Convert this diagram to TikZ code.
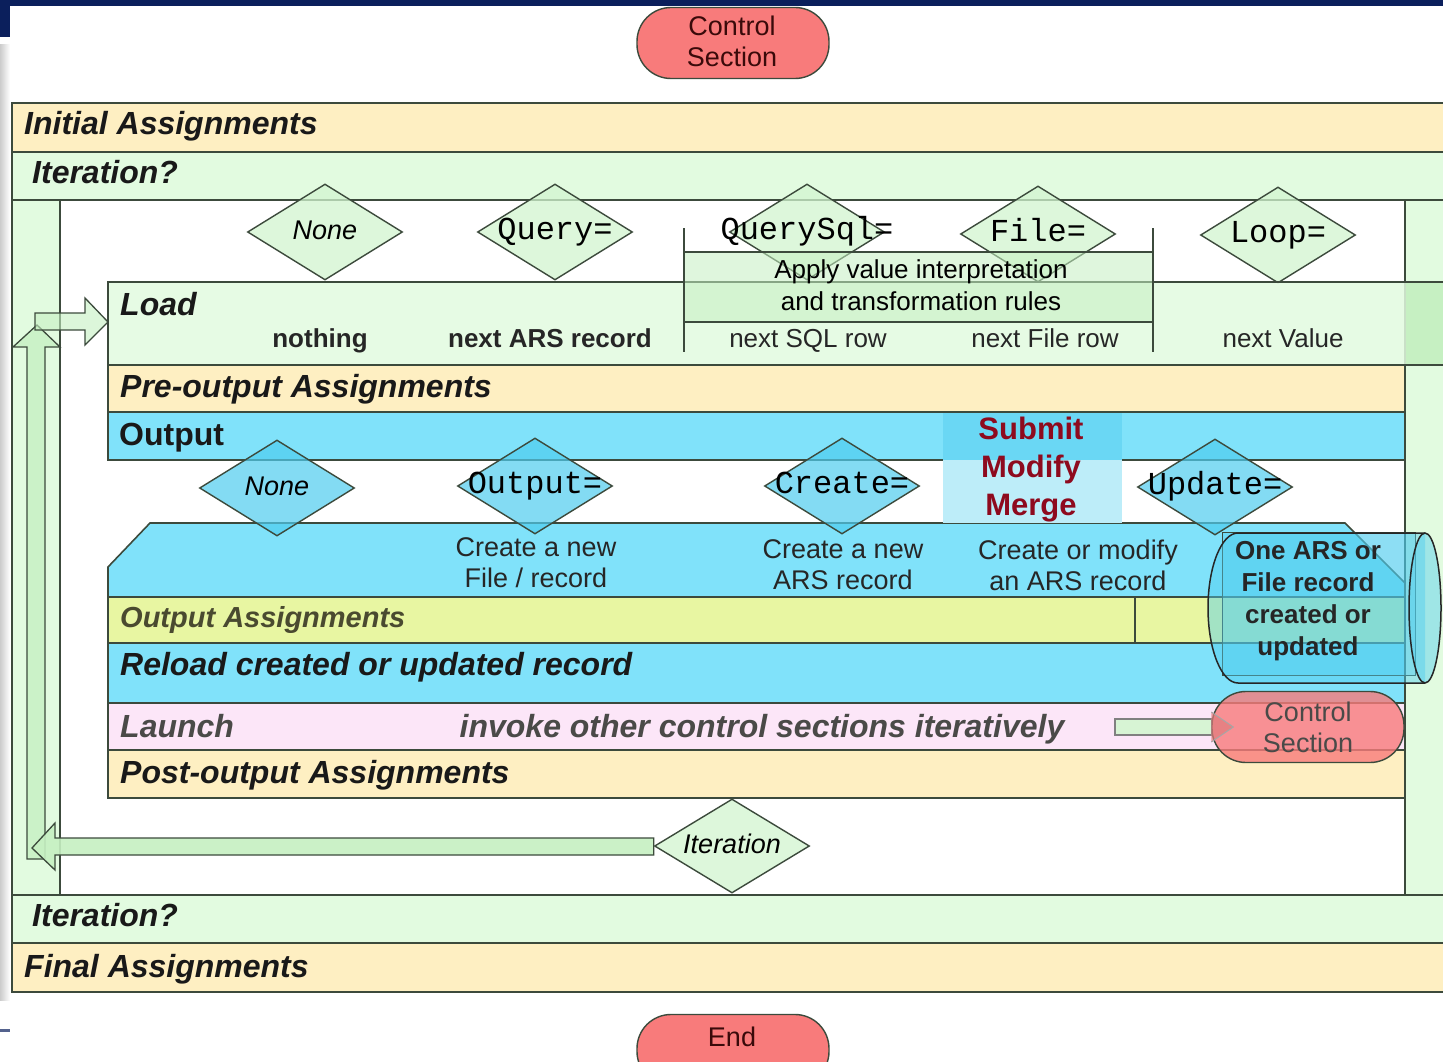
\documentclass[tikz,border=0pt]{standalone}
\usepackage{fontspec}
\setmainfont{Liberation Sans}
\newfontfamily\mymono{Liberation Mono}
\usetikzlibrary{shapes.geometric,calc}
\definecolor{peach}{HTML}{FEEFC2}
\definecolor{lgreen}{HTML}{E2FBE0}
\definecolor{mgreen}{HTML}{C6F0C2}
\definecolor{dgreen}{HTML}{D2F5D0}
\definecolor{cyanb}{HTML}{80E2FA}
\definecolor{cyand}{HTML}{4FCDEF}
\definecolor{cyanm}{HTML}{6AD7F4}
\definecolor{cyanl}{HTML}{BDEDF9}
\definecolor{ygreen}{HTML}{E8F6A2}
\definecolor{pinkb}{HTML}{FCE6F8}
\definecolor{salmon}{HTML}{F87B7B}
\definecolor{edge}{HTML}{3C4A3C}
\definecolor{navy}{HTML}{0B1F5C}
\definecolor{darkred}{HTML}{8E0A1E}
\definecolor{ctext}{HTML}{3A0A0A}
\definecolor{greytext}{HTML}{4A4A48}
\definecolor{olivetext}{HTML}{4A4A30}
\newcommand\fsz[2]{\fontsize{#1}{#2}\selectfont}
\tikzset{
  band/.style={draw=edge, line width=1.6pt},
  dia/.style={diamond, draw=edge, line width=1.4pt, minimum width=155pt, minimum height=96pt, inner sep=0pt},
  gdia/.style={dia, fill=dgreen, fill opacity=0.75},
  cdia/.style={dia, fill=cyand, fill opacity=0.7},
  btitle/.style={anchor=west, font=\fsz{32}{36}\bfseries\itshape, text=black!90, inner sep=0pt, text height=25pt, text depth=5pt},
  sub/.style={font=\fsz{26}{30}\bfseries, text=black!85, inner sep=0pt, text height=19pt, text depth=5pt},
  monot/.style={font=\mymono\fsz{32}{34}, inner sep=0pt, text height=21pt, text depth=6pt},
  dtext/.style={font=\fsz{27}{30}\itshape, inner sep=0pt, text height=20pt, text depth=6pt},
  term/.style={rectangle, rounded corners=34pt, draw=edge, line width=1.4pt, fill=salmon, minimum width=192pt, minimum height=71pt, inner sep=0pt},
  multi/.style={align=center, font=\fsz{27}{31}, inner sep=0pt},
  blockarrow/.style={draw=edge, line width=1.3pt, fill=mgreen, fill opacity=0.8},
}
\begin{document}
\begin{tikzpicture}[x=1pt,y=-1pt]
\clip (0,0) rectangle (1443,1062);
\fill[white] (0,0) rectangle (1443,1062);
% slide decorations
\fill[navy] (0,0) rectangle (1443,6);
\fill[navy] (0,0) rectangle (10,37);
\shade[left color=gray!40, right color=white] (0,45) rectangle (10,1000);
\fill[navy!70] (0,1029) rectangle (10,1032);

% outer frame
\draw[band, fill=peach] (12,103) rectangle (1460,152);
\draw[band, fill=lgreen] (12,152) rectangle (1460,200);
\draw[band, fill=white] (12,200) rectangle (1460,895);
\draw[band, fill=lgreen] (12,200) rectangle (60,895);
\draw[band, fill=lgreen] (1405,200) rectangle (1460,908);
\draw[band, fill=lgreen] (12,895) rectangle (1460,943);
\draw[band, fill=peach] (12,943) rectangle (1460,992);

% top diamonds
\node[gdia] (dnone) at (325,232) {};
\node[gdia] (dquery) at (555,232) {};
\node[gdia] (dsql) at (807,232) {};
\node[gdia] (dfile) at (1038,234) {};
\node[gdia] (dloop) at (1278,235) {};

% inner frame
\draw[band, fill=lgreen, fill opacity=0.85] (108,282) rectangle (1460,365);
\fill[mgreen] (1406,283) rectangle (1443,364);
\draw[band, fill=peach] (108,365) rectangle (1405,412);
\draw[band, fill=cyanb] (108,412) rectangle (1405,460);
\draw[band, fill=cyanb] (108,597) -- (108,567) -- (150,523) -- (1345,523) -- (1405,583) -- (1405,597) -- cycle;
\draw[band, fill=ygreen] (108,597) rectangle (1405,643);
\draw[band] (1135,597) -- (1135,643);
\draw[band, fill=cyanb] (108,643) rectangle (1405,703);
\draw[band, fill=pinkb] (108,703) rectangle (1405,750);
\draw[band, fill=peach] (108,750) rectangle (1405,798);

% bracket lines and apply box
\draw[band] (684,228) -- (684,352);
\draw[band] (1153,228) -- (1153,352);
\draw[band, fill=mgreen, fill opacity=0.55] (684,252) rectangle (1153,322);

% submit highlight
\fill[cyanm] (943,413) rectangle (1122,460);
\fill[cyanl] (943,460) rectangle (1122,523);

% output diamonds
\node[cdia] (onone) at (277,488) {};
\node[cdia] (oout) at (535,486) {};
\node[cdia] (ocreate) at (842,486) {};
\node[cdia] (oupdate) at (1215,487) {};

% cylinder
\draw[draw=edge, line width=1pt, fill=cyand, fill opacity=0.35] (1222,532) rectangle (1415,675);
\draw[draw=black!85, line width=1.5pt, fill=cyand, fill opacity=0.45]
  (1425,533) -- (1238,533) arc[start angle=-90, end angle=-270, x radius=30, y radius=75] -- (1425,683);
\draw[draw=black!85, line width=1.5pt, fill=cyand, fill opacity=0.45] (1425,608) ellipse[x radius=16, y radius=75];

% launch arrow and control section
\coordinate (lstart) at (1115,727);
\node[term, fill opacity=0.8] (ctl2) at (1308,727) {};
\draw[draw=gray, line width=1.3pt, fill=mgreen!70] ($(lstart)+(0,-8)$) rectangle ($(ctl2.west)+(0,8)$);
\draw[draw=gray!70, fill=salmon!80!gray, fill opacity=0.7, line width=1pt] ($(ctl2.west)+(0,-15)$) -- ($(ctl2.west)+(22,0)$) -- ($(ctl2.west)+(0,15)$);

% iteration diamond
\node[gdia, minimum height=94pt] (itd) at (732,846) {};

% left loop arrows
\coordinate (loadw) at (108,322);
\draw[blockarrow] (27,859) -- (27,347) -- (13,347) -- (37,325) -- (60,347) -- (45,347) -- (45,859) -- cycle;
\draw[blockarrow, fill opacity=0.6] (35,313) -- (85,313) -- (85,298) -- (loadw) -- (85,345) -- (85,330) -- (35,330) -- cycle;
\draw[blockarrow, fill opacity=0.9] ($(itd.west)+(0,-8)$) -- (55,838) -- (55,823) -- (32,848) -- (55,870) -- (55,855) -- ($(itd.west)+(0,9)$) -- cycle;

% terminals
\node[term] (ctl1) at (733,43) {};
\node[multi, text=ctext] (ctl1t) at (732,41) {Control\\Section};
\node[term] (endn) at (733,1050) {};
\node[font=\fsz{27}{31}, text=ctext, inner sep=0pt] (endt) at (732,1037) {End};

% band titles
\node[btitle] (t1) at (24,125) {Initial Assignments};
\node[btitle] (t2) at (32,173) {Iteration?};
\node[btitle] (t3) at (120,305) {Load};
\node[btitle] (t4) at (120,387) {Pre-output Assignments};
\node[btitle, font=\fsz{32}{36}\bfseries] (t5) at (119,435) {Output};
\node[btitle, text=olivetext, font=\fsz{29}{34}\bfseries\itshape] (t6) at (120,617) {Output Assignments};
\node[btitle] (t7) at (120,665) {Reload created or updated record};
\node[btitle, text=greytext] (t8) at (120,727) {Launch};
\node[btitle, text=greytext, anchor=center] (t9) at (762,727) {invoke other control sections iteratively};
\node[btitle] (t10) at (120,773) {Post-output Assignments};
\node[btitle] (t11) at (32,916) {Iteration?};
\node[btitle] (t12) at (24,967) {Final Assignments};

% load sub labels
\node[sub] (s1) at (320,340) {nothing};
\node[sub] (s2) at (550,340) {next ARS record};
\node[sub, font=\fsz{26}{30}] (s3) at (808,340) {next SQL row};
\node[sub, font=\fsz{26}{30}] (s4) at (1045,340) {next File row};
\node[sub, font=\fsz{26}{30}] (s5) at (1283,340) {next Value};
\node[multi, font=\fsz{26}{32}] (apply) at (921,285) {Apply value interpretation\\and transformation rules};

% diamond texts
\node[dtext] at (dnone) {None};
\node[monot] at (dquery) {Query=};
\node[monot] at (dsql) {QuerySql=};
\node[monot] at (dfile) {File=};
\node[monot] at (dloop) {Loop=};
\node[dtext] at (onone) {None};
\node[monot] at (oout) {Output=};
\node[monot] at (ocreate) {Create=};
\node[monot] at (oupdate) {Update=};
\node[dtext] at (itd) {Iteration};

% output texts
\node[multi, font=\fsz{31}{38}\bfseries, text=darkred] (smm) at (1031,470) {Submit\\Modify\\Merge};
\node[multi, text=black!85] (c1) at (536,563) {Create a new\\File / record};
\node[multi, text=black!85] (c2) at (843,565) {Create a new\\ARS record};
\node[multi, text=black!85] (c3) at (1078,565) {Create or modify\\an ARS record};
\node[multi, font=\fsz{26}{32}\bfseries, text=black!85] (cyl) at (1308,601) {One ARS or\\File record\\created or\\updated};
\node[multi, text=greytext] (ctl2t) at (1308,727) {Control\\Section};
\end{tikzpicture}
\end{document}
